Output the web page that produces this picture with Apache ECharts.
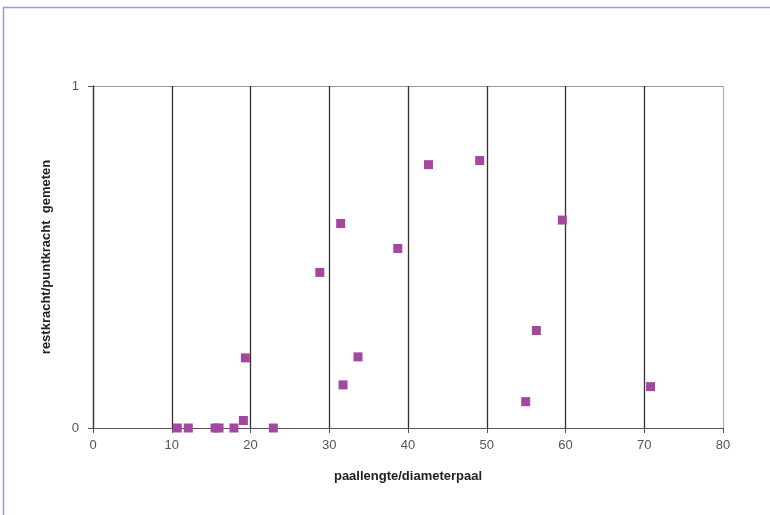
<!DOCTYPE html>
<html><head><meta charset="utf-8">
<script src="https://cdn.jsdelivr.net/npm/echarts@6/dist/echarts.min.js"></script>
<style>html,body{margin:0;padding:0;background:#fff}#c{width:770px;height:515px}</style>
</head><body><div id="c"></div>
<script>
var xValues = [10.7, 12.1, 15.5, 16.0, 17.9, 19.1, 19.35, 22.9, 28.8, 31.45, 31.75, 33.65, 38.7, 42.6, 49.1, 54.95, 56.3, 59.6, 70.8];
var yValues = [0, 0, 0, 0, 0, 0.022, 0.205, 0, 0.455, 0.598, 0.126, 0.208, 0.525, 0.77, 0.782, 0.077, 0.285, 0.608, 0.121];
var xTitle = 'paallengte/diameterpaal';
var yTitle = 'restkracht/puntkracht  gemeten';

var data = xValues.map(function (x, i) { return [x, yValues[i]]; });
var font = '"Liberation Sans Narrow", "Liberation Sans", Arial, sans-serif';
var chart = echarts.init(document.getElementById('c'));
chart.setOption({
  animation: false,
  backgroundColor: '#fff',
  grid: { left: 93, right: 47, top: 86, bottom: 87 },
  graphic: [
    { type: 'line', shape: { x1: 3, y1: 7.5, x2: 770, y2: 7.5 }, style: { stroke: '#9c9cc8', lineWidth: 1.5 } },
    { type: 'line', shape: { x1: 3.5, y1: 7, x2: 3.5, y2: 515 }, style: { stroke: '#9c9cc8', lineWidth: 1.5 } }
  ],
  xAxis: {
    type: 'value', min: 0, max: 80, interval: 10,
    name: xTitle, nameLocation: 'middle', nameGap: 42,
    nameTextStyle: { fontFamily: font, fontWeight: 'bold', fontSize: 13, color: '#222' },
    axisLine: { show: true, lineStyle: { color: '#555', width: 1 } },
    axisTick: { show: true, length: 5, lineStyle: { color: '#555' } },
    axisLabel: { fontFamily: font, fontSize: 13, color: '#555', margin: 11 },
    splitLine: { show: true, lineStyle: { color: ['#333', '#333', '#333', '#333', '#333', '#333', '#333', '#333', '#b5b5b5'], width: 1.3 } }
  },
  yAxis: {
    type: 'value', min: 0, max: 1, interval: 1,
    name: yTitle, nameLocation: 'middle', nameGap: 40,
    nameTextStyle: { fontFamily: font, fontWeight: 'bold', fontSize: 13, color: '#222' },
    axisLine: { show: true, lineStyle: { color: '#444', width: 1.3 } },
    axisTick: { show: true, length: 5, lineStyle: { color: '#555' } },
    axisLabel: { fontFamily: font, fontSize: 13, color: '#555', margin: 14 },
    splitLine: { show: true, lineStyle: { color: ['#555', '#999'], width: 1 } }
  },
  series: [{
    type: 'scatter', data: data, symbol: 'rect', symbolSize: 9,
    itemStyle: { color: '#a4479f', opacity: 1 }
  }]
});
</script></body></html>
